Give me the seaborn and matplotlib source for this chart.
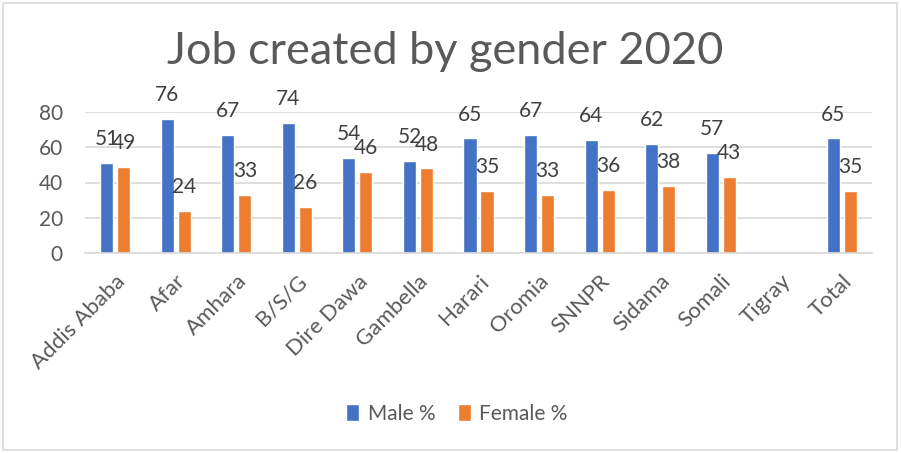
import numpy as np
import pandas as pd
import matplotlib
matplotlib.use("Agg")
import matplotlib.pyplot as plt
import seaborn as sns
from matplotlib.patches import Rectangle

regions = ["Addis Ababa", "Afar", "Amhara", "B/S/G", "Dire Dawa", "Gambella",
           "Harari", "Oromia", "SNNPR", "Sidama", "Somali", "Tigray", "Total"]
male_pct = [51, 76, 67, 74, 54, 52, 65, 67, 64, 62, 57, np.nan, 65]
female_pct = [49, 24, 33, 26, 46, 48, 35, 33, 36, 38, 43, np.nan, 35]
series_names = ["Male %", "Female %"]
yticks = [0, 20, 40, 60, 80]

df = pd.DataFrame({
    "Region": regions * 2,
    "Share": male_pct + female_pct,
    "Series": [series_names[0]] * len(regions) + [series_names[1]] * len(regions),
})

sns.set_theme(style="white")
plt.rcParams["font.family"] = ["Lato", "DejaVu Sans"]
text_color = "#595959"
grid_color = "#D9D9D9"
fs = 15

fig = plt.figure(figsize=(9.01, 4.53), dpi=100)
ax = fig.add_axes([85 / 901, 200 / 453, 787 / 901, 141 / 453])

sns.barplot(data=df, x="Region", y="Share", hue="Series", order=regions,
            hue_order=series_names, palette=["#4472C4", "#ED7D31"],
            width=0.56, gap=0.23, ax=ax, legend=True, saturation=1,
            errorbar=None)

ax.set_ylim(0, 80)
ax.set_xlim(-0.5, len(regions) - 0.5)
ax.set_yticks(yticks)
ax.yaxis.grid(True, color=grid_color, linewidth=1.2)
ax.set_axisbelow(True)
for side in ["top", "right", "left"]:
    ax.spines[side].set_visible(False)
ax.spines["bottom"].set_color(grid_color)
ax.spines["bottom"].set_linewidth(1.2)
ax.set_xlabel("")
ax.set_ylabel("")
ax.tick_params(axis="y", length=0, pad=16, labelsize=fs, labelcolor=text_color)
ax.tick_params(axis="x", length=0, pad=13, labelsize=16, labelcolor=text_color)
for lbl in ax.get_xticklabels():
    lbl.set_rotation(45)
    lbl.set_ha("right")
    lbl.set_va("top")
    lbl.set_rotation_mode("anchor")

# value labels above each drawn bar
for container in ax.containers:
    for bar in container.patches:
        if bar is None:
            continue
        h = bar.get_height()
        if np.isnan(h):
            continue
        ax.annotate(f"{h:.0f}", (bar.get_x() + bar.get_width() / 2, h),
                    xytext=(0, 10), textcoords="offset points",
                    ha="center", va="bottom", fontsize=fs,
                    color="#404040", annotation_clip=False)

leg = fig.legend(*ax.get_legend_handles_labels(), loc="center",
                 bbox_to_anchor=(457 / 901, 1 - 414 / 453),
                 ncol=2, frameon=False, fontsize=fs, handlelength=0.62,
                 handleheight=0.9, columnspacing=1.1, handletextpad=0.4)
ax.get_legend().remove()
for t in leg.get_texts():
    t.set_color(text_color)

fig.text(0.494, 1 - 52 / 453, "Job created by gender 2020", ha="center",
         va="center", fontsize=32.5, color=text_color)

fig.patches.append(Rectangle((3 / 901, 3 / 453), 894 / 901, 447 / 453,
                             transform=fig.transFigure, fill=False,
                             edgecolor=grid_color, linewidth=1.2))

fig.savefig("out.png", dpi=100)
